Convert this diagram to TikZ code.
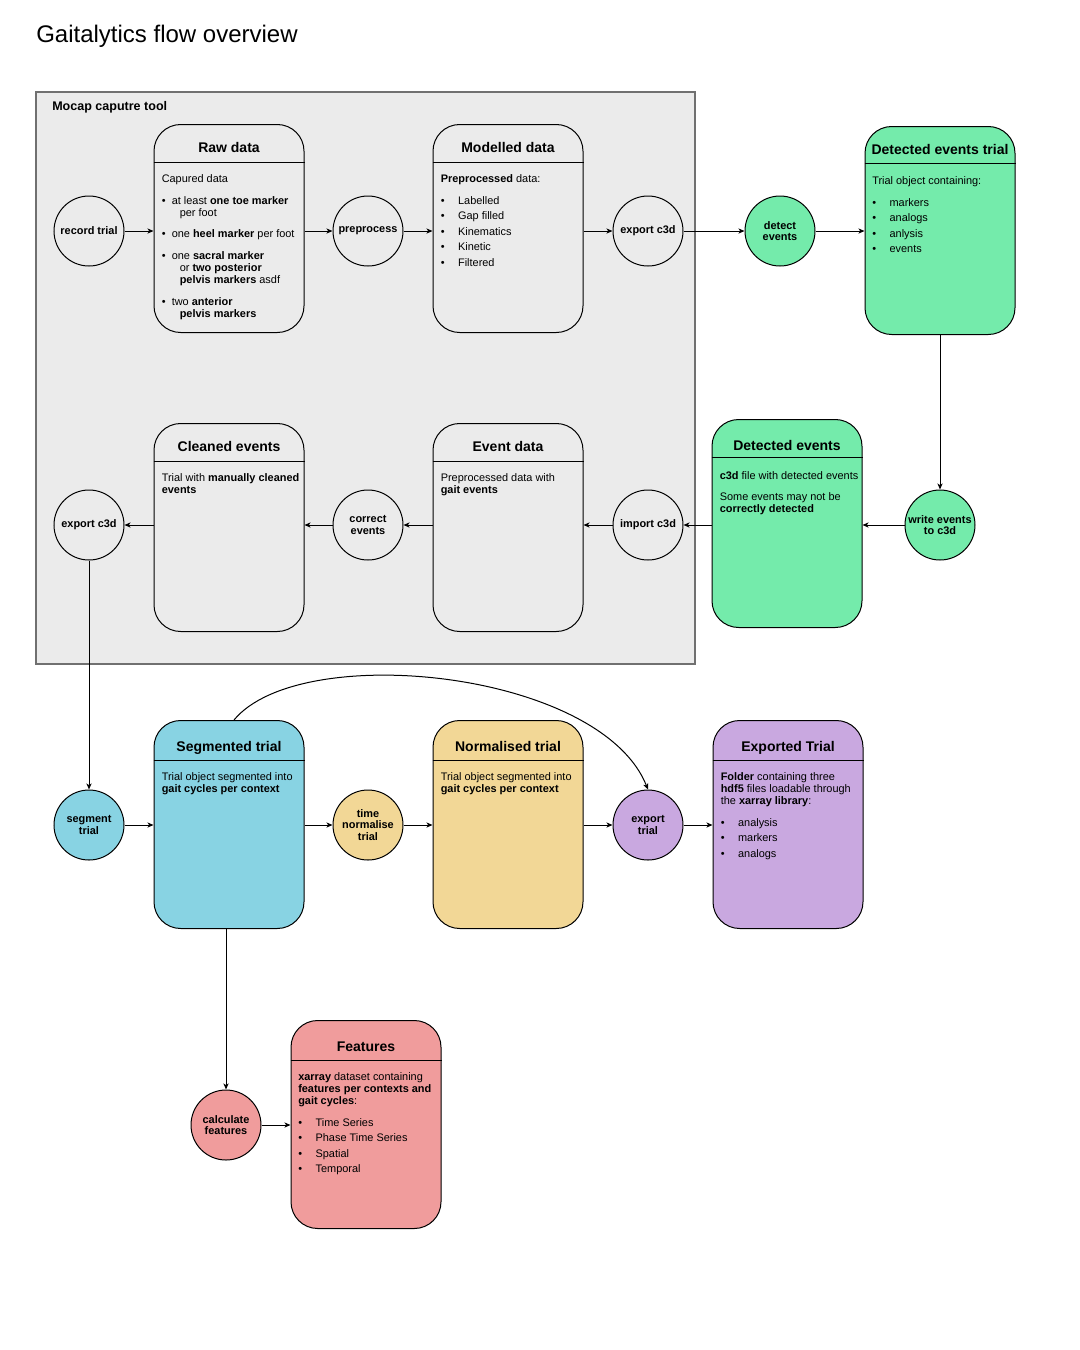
\documentclass[tikz,border=0pt]{standalone}
\usepackage{fontspec}
\setmainfont{Liberation Sans}
\usetikzlibrary{arrows.meta,calc}
\definecolor{mocapgray}{HTML}{EBEBEB}
\definecolor{mocapline}{HTML}{707070}
\definecolor{evgreen}{HTML}{74EBAB}
\definecolor{segblue}{HTML}{88D3E3}
\definecolor{normyellow}{HTML}{F2D796}
\definecolor{exppurple}{HTML}{C9A8E0}
\definecolor{featpink}{HTML}{F09C9C}
\newcommand{\bul}[1][13pt]{\makebox[#1][l]{\textbullet}}
\tikzset{
  databox/.style={draw, line width=0.75pt, rounded corners=20pt, minimum width=112.5pt, minimum height=156pt, inner sep=0pt},
  procstep/.style={circle, draw, line width=0.75pt, minimum size=52.5pt, inner sep=0pt, align=center, font=\fontsize{8.2}{8.4}\selectfont\bfseries},
  boxtitle/.style={anchor=base, inner sep=0pt, font=\fontsize{10.5}{12}\selectfont\bfseries},
  boxbody/.style={anchor=north west, align=left, inner sep=0pt, font=\fontsize{8.2}{9}\selectfont},
  headline/.style={line width=0.75pt},
  flow/.style={line width=0.75pt, -{Stealth[length=4.5pt,width=3.8pt,inset=1.2pt]}}
}

\begin{document}
\begin{tikzpicture}[x=0.75pt, y=-0.75pt]
  \fill[white] (0,0) rectangle (1080,1350);
  \useasboundingbox (0,0) rectangle (1080,1350);

  \node[anchor=west, inner sep=0pt, font=\fontsize{18}{20}\selectfont] (title) at (36,36) {Gaitalytics flow overview};

  % capture tool frame
  \node[draw=mocapline, fill=mocapgray, line width=1pt, minimum width=494.25pt, minimum height=429pt, inner sep=0pt] (mocap) at (365.5,378) {};
  \node[anchor=north west, inner sep=0pt, font=\fontsize{9.4}{11}\selectfont\bfseries] (mocaplabel) at (52,101) {Mocap caputre tool};

  % data boxes
  \node[databox] (rawdata) at (229,228.5) {};
  \draw[headline] ($(rawdata.north west)+(0,38)$) -- ($(rawdata.north east)+(0,38)$);
  \node[boxtitle] (rawtitle) at ($(rawdata.north)+(0,28)$) {Raw data};
  \node[boxbody] (rawbody) at ($(rawdata.north west)+(8,50)$) {Capured data\\[7.5pt]
    \bul[7.5pt]at least \textbf{one toe marker}\\
    \hspace*{13.5pt}per foot\\[6.75pt]
    \bul[7.5pt]one \textbf{heel marker} per foot\\[7.5pt]
    \bul[7.5pt]one \textbf{sacral marker}\\
    \hspace*{13.5pt}or \textbf{two posterior}\\
    \hspace*{13.5pt}\textbf{pelvis markers} asdf\\[7.5pt]
    \bul[7.5pt]two \textbf{anterior}\\
    \hspace*{13.5pt}\textbf{pelvis markers}};

  \node[databox] (modelled) at (508,228.5) {};
  \draw[headline] ($(modelled.north west)+(0,38)$) -- ($(modelled.north east)+(0,38)$);
  \node[boxtitle] (modtitle) at ($(modelled.north)+(0,28)$) {Modelled data};
  \node[boxbody] (modbody) at ($(modelled.north west)+(8,50)$) {\textbf{Preprocessed} data:\\[7.5pt]
    \bul Labelled\\[2.6pt] \bul Gap filled\\[2.6pt] \bul Kinematics\\[2.6pt] \bul Kinetic\\[2.6pt] \bul Filtered};

  \node[databox, fill=evgreen] (eventstrial) at (940,230.5) {};
  \draw[headline] ($(eventstrial.north west)+(0,37)$) -- ($(eventstrial.north east)+(0,37)$);
  \node[boxtitle] (evtrtitle) at ($(eventstrial.north)+(0,28)$) {Detected events trial};
  \node[boxbody] (evtrbody) at ($(eventstrial.north west)+(7.5,50)$) {Trial object containing:\\[7.5pt]
    \bul markers\\[2.6pt] \bul analogs\\[2.6pt] \bul anlysis\\[2.6pt] \bul events};

  \node[databox, fill=evgreen] (detected) at (787,523.5) {};
  \draw[headline] ($(detected.north west)+(0,38)$) -- ($(detected.north east)+(0,38)$);
  \node[boxtitle] (dettitle) at ($(detected.north)+(0,31)$) {Detected events};
  \node[boxbody] (detbody) at ($(detected.north west)+(8,52)$) {\textbf{c3d} file with detected events\\[6.75pt]
    Some events may not be\\ \textbf{correctly detected}};

  \node[databox] (eventdata) at (508,527.5) {};
  \draw[headline] ($(eventdata.north west)+(0,38)$) -- ($(eventdata.north east)+(0,38)$);
  \node[boxtitle] (evdtitle) at ($(eventdata.north)+(0,28)$) {Event data};
  \node[boxbody] (evdbody) at ($(eventdata.north west)+(8,50)$) {Preprocessed data with\\ \textbf{gait events}};

  \node[databox] (cleaned) at (229,527.5) {};
  \draw[headline] ($(cleaned.north west)+(0,38)$) -- ($(cleaned.north east)+(0,38)$);
  \node[boxtitle] (cleantitle) at ($(cleaned.north)+(0,28)$) {Cleaned events};
  \node[boxbody] (cleanbody) at ($(cleaned.north west)+(8,50)$) {Trial with \textbf{manually cleaned}\\ \textbf{events}};

  \node[databox, fill=segblue] (segmented) at (229,824.5) {};
  \draw[headline] ($(segmented.north west)+(0,40)$) -- ($(segmented.north east)+(0,40)$);
  \node[boxtitle] (segtitle) at ($(segmented.north)+(0,31)$) {Segmented trial};
  \node[boxbody] (segbody) at ($(segmented.north west)+(8,52)$) {Trial object segmented into\\ \textbf{gait cycles per context}};

  \node[databox, fill=normyellow] (normalised) at (508,824.5) {};
  \draw[headline] ($(normalised.north west)+(0,40)$) -- ($(normalised.north east)+(0,40)$);
  \node[boxtitle] (normtitle) at ($(normalised.north)+(0,31)$) {Normalised trial};
  \node[boxbody] (normbody) at ($(normalised.north west)+(8,52)$) {Trial object segmented into\\ \textbf{gait cycles per context}};

  \node[databox, fill=exppurple] (exported) at (788,824.5) {};
  \draw[headline] ($(exported.north west)+(0,40)$) -- ($(exported.north east)+(0,40)$);
  \node[boxtitle] (exptitle) at ($(exported.north)+(0,31)$) {Exported Trial};
  \node[boxbody] (expbody) at ($(exported.north west)+(8,52)$) {\textbf{Folder} containing three\\
    \textbf{hdf5} files loadable through\\ the \textbf{xarray library}:\\[7.5pt]
    \bul analysis\\[2.6pt] \bul markers\\[2.6pt] \bul analogs};

  \node[databox, fill=featpink] (features) at (366,1124.5) {};
  \draw[headline] ($(features.north west)+(0,40)$) -- ($(features.north east)+(0,40)$);
  \node[boxtitle] (feattitle) at ($(features.north)+(0,31)$) {Features};
  \node[boxbody] (featbody) at ($(features.north west)+(7.5,52)$) {\textbf{xarray} dataset containing\\
    \textbf{features per contexts and}\\ \textbf{gait cycles}:\\[7.5pt]
    \bul Time Series\\[2.6pt] \bul Phase Time Series\\[2.6pt] \bul Spatial\\[2.6pt] \bul Temporal};

  % process steps
  \node[procstep] (record) at (89,231) {record trial};
  \node[procstep] (preproc) at (368,231) {preprocess};
  \node[procstep] (exportA) at (648,231) {export c3d};
  \node[procstep, fill=evgreen] (detect) at (780,231) {detect\\events};
  \node[procstep, fill=evgreen] (writeev) at (940,525) {write events\\to c3d};
  \node[procstep] (importc) at (648,525) {import c3d};
  \node[procstep] (correct) at (368,525) {correct\\events};
  \node[procstep] (exportB) at (89,525) {export c3d};
  \node[procstep, fill=segblue] (segment) at (89,825) {segment\\trial};
  \node[procstep, fill=normyellow] (timenorm) at (368,825) {time\\normalise\\trial};
  \node[procstep, fill=exppurple] (exporttr) at (648,825) {export\\trial};
  \node[procstep, fill=featpink] (calcfeat) at (226,1125) {calculate\\features};

  % connectors
  \draw[flow] (record.east) -- (record.east -| rawdata.west);
  \draw[flow] (preproc.west -| rawdata.east) -- (preproc.west);
  \draw[flow] (preproc.east) -- (preproc.east -| modelled.west);
  \draw[flow] (exportA.west -| modelled.east) -- (exportA.west);
  \draw[flow] (exportA.east) -- (detect.west);
  \draw[flow] (detect.east) -- (detect.east -| eventstrial.west);
  \draw[flow] (eventstrial.south) -- (writeev.north);
  \draw[flow] (writeev.west) -- (writeev.west -| detected.east);
  \draw[flow] (importc.east -| detected.west) -- (importc.east);
  \draw[flow] (importc.west) -- (importc.west -| eventdata.east);
  \draw[flow] (correct.east -| eventdata.west) -- (correct.east);
  \draw[flow] (correct.west) -- (correct.west -| cleaned.east);
  \draw[flow] (exportB.east -| cleaned.west) -- (exportB.east);
  \draw[flow] (exportB.south) -- (segment.north);
  \draw[flow] (segment.east) -- (segment.east -| segmented.west);
  \draw[flow] (timenorm.west -| segmented.east) -- (timenorm.west);
  \draw[flow] (timenorm.east) -- (timenorm.east -| normalised.west);
  \draw[flow] (exporttr.west -| normalised.east) -- (exporttr.west);
  \draw[flow] (exporttr.east) -- (exporttr.east -| exported.west);
  \draw[flow] ($(segmented.north)+(5,0)$) .. controls (300,640) and (600,670) .. (exporttr.north);
  \draw[flow] (calcfeat.north |- segmented.south) -- (calcfeat.north);
  \draw[flow] (calcfeat.east) -- (calcfeat.east -| features.west);
\end{tikzpicture}
\end{document}
